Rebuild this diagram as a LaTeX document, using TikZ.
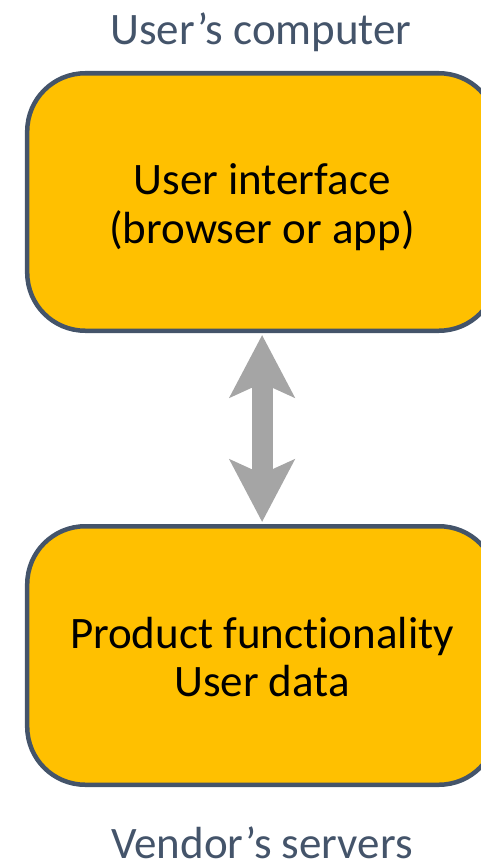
\documentclass[tikz,border=0pt]{standalone}
\usepackage{fontspec}
\setmainfont{Carlito}[Ligatures={NoCommon,NoRequired,NoContextual}]
\usetikzlibrary{arrows.meta}
\definecolor{boxfill}{HTML}{FFC000}
\definecolor{boxline}{HTML}{44546A}
\definecolor{titlecol}{HTML}{44546A}
\definecolor{arrowcol}{HTML}{A5A5A5}
\tikzset{
  panel/.style={draw=boxline, fill=boxfill, line width=4.5pt, rounded corners=58pt,
    rectangle, inner sep=0pt},
  boxtext/.style={align=center, inner sep=0pt, text=black,
    font=\fontsize{45}{48.5}\selectfont},
  title/.style={anchor=base, inner sep=0pt, text=titlecol,
    font=\fontsize{45}{54}\selectfont},
  biarrow/.style={draw=arrowcol, line width=21pt,
    {Stealth[length=62pt, width=64pt, inset=14pt]}-{Stealth[length=62pt, width=64pt, inset=14pt]},
    shorten <=2pt, shorten >=2pt}
}
\begin{document}
\begin{tikzpicture}[x=1pt, y=-1pt]
\useasboundingbox (0,0) rectangle (480,867);
\node[panel, minimum width=469.75pt, minimum height=257.5pt] (ui) at (262.1,202) {};
\node[panel, minimum width=469.75pt, minimum height=258.5pt] (pd) at (262.1,655.5) {};
\node[boxtext] (uitext) at (262,207) {User interface\\(browser or app)};
\node[boxtext] (pdtext) at (262,657) {Product functionality\\User data};
\node[title] (top) at (261,45) {User’s computer};
\node[title] (bottom) at (262,858) {Vendor’s servers};
\draw[biarrow] (ui.south) -- (pd.north);
\end{tikzpicture}
\end{document}
